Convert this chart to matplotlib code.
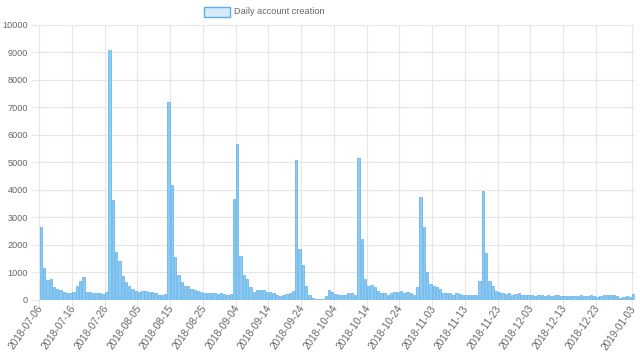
import matplotlib
matplotlib.use("Agg")
import matplotlib.pyplot as plt
from matplotlib.patches import Rectangle
import pandas as pd
import numpy as np

plt.rcParams['font.family'] = ['Liberation Sans', 'DejaVu Sans']

start_date = "2018-07-06"
end_date = "2019-01-03"
dates = pd.date_range(start_date, end_date, freq="D")
date_labels = [d.strftime("%Y-%m-%d") for d in dates]

series_name = "Daily account creation"
values = [
    2630, 1130, 720, 730, 460, 380, 340, 290, 230, 230,
    290, 490, 670, 820, 280, 260, 240, 220, 220, 210,
    280, 9100, 3620, 1730, 1390, 870, 620, 510, 390, 320,
    270, 300, 300, 280, 260, 230, 180, 180, 200, 7200,
    4180, 1560, 890, 630, 500, 500, 370, 350, 320, 280,
    250, 230, 240, 240, 200, 220, 200, 160, 190, 3650,
    5650, 1570, 880, 740, 440, 290, 340, 340, 330, 290,
    260, 240, 180, 120, 170, 200, 230, 300, 5070, 1840,
    1260, 490, 150, 40, 25, 15, 30, 120, 340, 270,
    210, 160, 160, 160, 220, 220, 170, 5160, 2200, 760,
    490, 540, 450, 320, 230, 230, 170, 230, 270, 280,
    320, 220, 260, 220, 180, 460, 3730, 2630, 1010, 550,
    490, 450, 380, 230, 230, 230, 180, 220, 210, 160,
    160, 180, 150, 150, 680, 3940, 1710, 680, 500, 300,
    280, 230, 210, 230, 180, 200, 220, 160, 170, 170,
    170, 120, 170, 160, 130, 150, 130, 160, 180, 110,
    110, 110, 110, 110, 120, 160, 110, 130, 170, 130,
    100, 110, 150, 160, 160, 150, 120, 70, 85, 120,
    100, 200,
]
tick_idx = list(range(0, 180, 10)) + [181]
y_ticks = list(range(0, 10001, 1000))

text_color = "#666666"
grid_color = "#e6e6e6"

fig = plt.figure(figsize=(6.4, 3.61), dpi=100)
ax = fig.add_axes([39.3 / 640, (361 - 299.5) / 361, (635 - 39.3) / 640, (299.5 - 25) / 361])

x = np.arange(len(values))
ax.bar(x, values, width=0.72, color="#8ccaf3", edgecolor="#5aaeea", linewidth=0.5, zorder=3)

ax.set_xlim(-0.5, len(values) - 0.5)
ax.set_ylim(0, 10000)

ax.set_yticks(y_ticks)
ax.set_yticklabels([str(v) for v in y_ticks], color=text_color, fontsize=6.6)
for yv in y_ticks:
    ax.axhline(yv, color=("#c8c8c8" if yv == 0 else grid_color), lw=0.8, zorder=1)

ax.set_xticks([i - 0.5 for i in tick_idx], minor=False)
ax.set_xticklabels([])
for i in tick_idx:
    ax.axvline(i - 0.5, color=grid_color, lw=0.8, zorder=1)
ax.set_xticks(tick_idx, minor=True)
ax.set_xticklabels([date_labels[i] for i in tick_idx], minor=True, rotation=55,
                   ha="right", va="center", rotation_mode="anchor", color=text_color, fontsize=7.2)
ax.tick_params(axis="x", which="minor", length=0, pad=5)
ax.tick_params(axis="x", which="major", length=6, color=grid_color, width=0.8)
ax.tick_params(axis="y", length=6, color=grid_color, width=0.8, pad=2)

for s in ["top", "right", "bottom"]:
    ax.spines[s].set_visible(False)
ax.spines["left"].set_color(grid_color)
ax.spines["left"].set_linewidth(0.8)

# legend
fig.patches.append(Rectangle((204 / 640, 1 - 16.5 / 361), 26 / 640, 9.5 / 361, transform=fig.transFigure,
                             facecolor="#d7ebfb", edgecolor="#5aaeea", linewidth=1.0))
fig.text(234 / 640, 1 - 11.5 / 361, series_name, color=text_color, fontsize=6.6, va="center", ha="left")

fig.savefig("out.png", dpi=100)
